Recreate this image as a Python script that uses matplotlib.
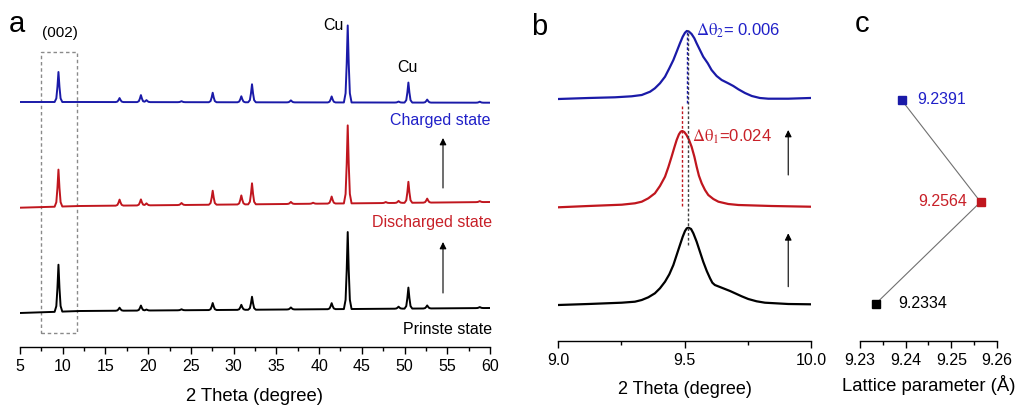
import numpy as np
import matplotlib.pyplot as plt
from matplotlib.patches import Rectangle

plt.rcParams['font.family'] = ['Liberation Sans', 'DejaVu Sans']
plt.rcParams['mathtext.fontset'] = 'stix'

# ---------------- panel a : XRD patterns (peak table)
peak_pos = [9.5, 16.65, 19.15, 19.8, 23.9, 27.55, 30.9, 32.15, 36.7, 39.3,
            41.47, 43.35, 47.8, 49.3, 50.45, 52.65, 58.8]
black_h = [47, 3, 5, 1, 1, 7, 5, 13, 2, 0, 6, 77, 0, 2, 21, 3, 1]
red_h = [37, 6, 6, 2, 2, 14, 9, 21, 2, 1, 7, 78, 1, 2, 21, 4, 1]
blue_h = [30, 4, 7, 2, 1, 9.5, 6, 18, 2, 0, 6, 77, 0, 1, 20, 3, 1]

base_x = [5, 12, 60]
black_base = [33.7, 35.7, 38.7]
red_base = [139, 140.7, 144.7]
blue_base = [244.7, 244.7, 244]

# ---------------- panel b : (002) peak, 2theta vs intensity
blue_bx = [9.001, 9.120, 9.225, 9.291, 9.331, 9.364, 9.383, 9.403, 9.423, 9.440,
           9.456, 9.469, 9.482, 9.493, 9.502, 9.509, 9.518, 9.528, 9.539, 9.548,
           9.561, 9.574, 9.592, 9.607, 9.627, 9.647, 9.673, 9.693, 9.713, 9.739,
           9.766, 9.798, 9.831, 9.910, 9.996]
blue_by = [241.7, 242.7, 243.4, 244.4, 245.7, 249, 252.4, 257.4, 264, 272.4,
           280.7, 289, 297.4, 304, 308, 309.7, 309, 306.7, 302.4, 297.4,
           290.7, 284, 277.4, 270.7, 264.7, 260.7, 257.4, 254.7, 251.4, 247.7,
           244.7, 242.7, 242, 242, 242.7]
red_bx = [9.001, 9.120, 9.252, 9.304, 9.331, 9.357, 9.383, 9.403, 9.423, 9.436,
          9.449, 9.460, 9.469, 9.478, 9.485, 9.491, 9.499, 9.508, 9.518, 9.528,
          9.539, 9.548, 9.557, 9.568, 9.581, 9.594, 9.614, 9.634, 9.673, 9.713,
          9.844, 9.996]
red_by = [133.4, 134.7, 136, 137.4, 139, 142.4, 147.4, 154.7, 164, 173.4,
          184, 193.4, 200.7, 206.4, 209, 209.7, 208.7, 205.7, 200.7, 194,
          184, 174, 165, 157.4, 150.7, 145.7, 141.7, 139, 136.7, 135.7,
          134.7, 134]
black_bx = [9.001, 9.120, 9.252, 9.304, 9.331, 9.357, 9.383, 9.403, 9.423, 9.440,
            9.456, 9.469, 9.482, 9.493, 9.502, 9.509, 9.516, 9.526, 9.535, 9.548,
            9.561, 9.574, 9.588, 9.601, 9.610, 9.620, 9.640, 9.660, 9.680, 9.700,
            9.726, 9.752, 9.785, 9.818, 9.910, 9.996]
black_by = [35.7, 36.7, 38, 39, 40.7, 43.4, 47.4, 52.4, 59, 66.4,
            75.7, 85.7, 95.7, 104, 109.7, 112.4, 113, 111.7, 107.4, 99,
            89, 79, 69.7, 62.4, 58, 55.7, 53.7, 51.7, 49.7, 47.4,
            44.4, 41.7, 39.4, 38, 36.7, 36.4]
peak_black, peak_red, peak_blue = 9.515, 9.491, 9.509

# ---------------- panel c : lattice parameter
lattice = [9.2334, 9.2564, 9.2391]
state_idx = [0, 1, 2]
lat_labels = ['9.2334', '9.2564', '9.2391']

BLUE = '#1a1aa8'
RED = '#c0161e'
BLACK = '#000000'
TBLUE = '#2020c8'
TRED = '#c82028'
cols = [BLACK, RED, BLUE]

W, H = 1019, 409
fig = plt.figure(figsize=(W / 100, H / 100), dpi=100)


def profile(heights, base):
    # put each peak (fixed shape) on the baseline
    dx = [-0.45, -0.25, -0.12, 0, 0.12, 0.25, 0.45]
    fr = [0, 0.12, 0.5, 1, 0.5, 0.12, 0]
    xs = list(base_x)
    for p in peak_pos:
        xs += [p + d for d in dx]
    xs = np.unique(np.array(xs))
    ys = np.interp(xs, base_x, base)
    for p, h in zip(peak_pos, heights):
        ys = ys + h * np.interp(xs, [p + d for d in dx], fr, left=0, right=0)
    return xs, ys


def clean(ax, pad=3):
    for s in ['left', 'right', 'top']:
        ax.spines[s].set_visible(False)
    ax.spines['bottom'].set_linewidth(1.0)
    ax.set_yticks([])
    ax.tick_params(axis='x', which='major', direction='out', length=5, width=1,
                   labelsize=11.5, pad=pad)
    ax.tick_params(axis='x', which='minor', direction='out', length=3, width=1)


# ---- a
axa = fig.add_axes([20 / W, 1 - 346.7 / H, 470 / W, 336.7 / H])
clean(axa, pad=4)
for hts, bs, c in [(black_h, black_base, BLACK), (red_h, red_base, RED), (blue_h, blue_base, BLUE)]:
    x, y = profile(hts, bs)
    axa.plot(x, y, color=c, lw=1.4)
axa.set_xlim(5, 60)
axa.set_ylim(0, 336.7)
axa.set_xticks(np.arange(5, 61, 5))
axa.set_xticks(np.arange(7.5, 60, 5), minor=True)
axa.set_xlabel('2 Theta (degree)', fontsize=13.3, labelpad=10)
axa.add_patch(Rectangle((7.42, 13.7), 11.7 - 7.42, 294.7 - 13.7, fill=False,
                        ls=(0, (2.5, 2)), lw=1, ec='#8a8a8a'))
axa.text(9.7, 313.7, '(002)', fontsize=11, ha='center', va='center')
axa.text(41.66, 321.7, 'Cu', fontsize=11.5, ha='center', va='center')
axa.text(50.33, 278.7, 'Cu', fontsize=11.5, ha='center', va='center')
axa.text(60, 225.7, 'Charged state', fontsize=11.5, ha='right', va='center', color=TBLUE)
axa.text(60.2, 123.7, 'Discharged state', fontsize=11.5, ha='right', va='center', color=TRED)
axa.text(60.2, 16.7, 'Prinste state', fontsize=11.5, ha='right', va='center')
for y0, y1 in [(158.7, 208.7), (53.7, 104.7)]:
    axa.annotate('', xy=(54.5, y1), xytext=(54.5, y0),
                 arrowprops=dict(arrowstyle='-|>', color='black', lw=0.8,
                                 mutation_scale=10, shrinkA=0, shrinkB=0))

# ---- b
axb = fig.add_axes([558 / W, 1 - 340.7 / H, 253 / W, 330.7 / H])
clean(axb, pad=4)
axb.plot(black_bx, black_by, color=BLACK, lw=1.6)
axb.plot(red_bx, red_by, color=RED, lw=1.6)
axb.plot(blue_bx, blue_by, color=BLUE, lw=1.6)
axb.plot([peak_black, peak_black], [95.7, 310.7], color='#404040', ls=(0, (2, 1.5)), lw=1)
axb.plot([peak_blue, peak_blue], [237.7, 308.7], color=BLUE, ls=(0, (2, 1.5)), lw=1)
axb.plot([peak_red, peak_red], [134.7, 234.7], color=RED, ls=(0, (2, 1.5)), lw=1)
axb.set_xlim(9.0, 10.0)
axb.set_ylim(0, 330.7)
axb.set_xticks([9.0, 9.5, 10.0])
axb.set_xticks([9.25, 9.75], minor=True)
axb.set_xticklabels(['9.0', '9.5', '10.0'])
axb.set_xlabel('2 Theta (degree)', fontsize=13, labelpad=9)
axb.text(9.544, 310, r'$\mathrm{\Delta\theta}_{2}$= 0.006', fontsize=12, color=TBLUE, va='center')
axb.text(9.531, 204, r'$\mathrm{\Delta\theta}_{1}$=0.024', fontsize=12, color=TRED, va='center')
for y0, y1 in [(165.7, 210.7), (54, 107.4)]:
    axb.annotate('', xy=(9.91, y1), xytext=(9.91, y0),
                 arrowprops=dict(arrowstyle='-|>', color='black', lw=0.8,
                                 mutation_scale=10, shrinkA=0, shrinkB=0))

# ---- c
axc = fig.add_axes([860 / W, 1 - 340.7 / H, 137 / W, 330.7 / H])
clean(axc, pad=4)
axc.plot(lattice, state_idx, color='#707070', lw=0.8, zorder=1)
for xv, yv, c in zip(lattice, state_idx, cols):
    axc.plot(xv, yv, 's', color=c, ms=6, zorder=2)
axc.text(9.2383, 0, lat_labels[0], fontsize=11.5, color=BLACK, va='center', ha='left')
axc.text(9.2534, 1, lat_labels[1], fontsize=11.5, color=TRED, va='center', ha='right')
axc.text(9.2425, 2, lat_labels[2], fontsize=11.5, color=TBLUE, va='center', ha='left')
axc.set_xlim(9.23, 9.26)
axc.set_ylim(-0.36, 2.882)
axc.set_xticks([9.23, 9.24, 9.25, 9.26])
axc.set_xticks([9.235, 9.245, 9.255], minor=True)
axc.set_xlabel('Lattice parameter (Å)', fontsize=13.3, labelpad=5)

# panel letters
fig.text(9 / W, 1 - 32 / H, 'a', fontsize=21, va='baseline')
fig.text(531 / W, 1 - 35 / H, 'b', fontsize=21, va='baseline')
fig.text(855 / W, 1 - 32 / H, 'c', fontsize=21, va='baseline')

fig.savefig('out.png', dpi=100)
